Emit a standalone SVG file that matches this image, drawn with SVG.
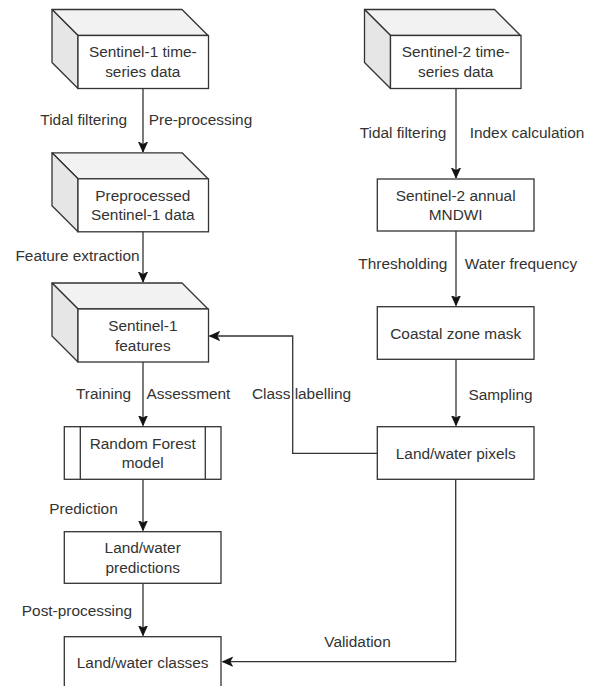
<svg xmlns="http://www.w3.org/2000/svg" xmlns:xlink="http://www.w3.org/1999/xlink" width="592" height="686" viewBox="0 0 592 686">
<style>
text{font-family:"Liberation Sans",Arial,sans-serif;font-size:15.4px;fill:#333;text-anchor:middle}
.box{fill:#fff;stroke:#333;stroke-width:1.3}
.top{fill:#f2f2f2;stroke:#333;stroke-width:1.3;stroke-linejoin:round}
.side{fill:#e6e6e6;stroke:#333;stroke-width:1.3;stroke-linejoin:round}
.edge{fill:none;stroke:#333;stroke-width:1.3}
</style>
<defs>
<marker id="arr" markerUnits="userSpaceOnUse" markerWidth="12" markerHeight="12" refX="10" refY="5" orient="auto">
<path d="M0,0.5 L10,5 L0,9.5 L2.5,5 Z" fill="#111" stroke="#111" stroke-width="0.8"/>
</marker>
<g id="cube">
<polygon class="top" points="0,0 130,0 156,26 26,26"/>
<polygon class="side" points="0,0 26,26 26,79 0,53"/>
<rect class="box" x="26" y="26" width="130.5" height="53"/>
</g>
</defs>
<rect width="592" height="686" fill="#fff"/>
<g id="connectors" class="edge">
<path d="M143,88 V152" marker-end="url(#arr)"/>
<path d="M143,231 V282" marker-end="url(#arr)"/>
<path d="M143,362 V425.5" marker-end="url(#arr)"/>
<path d="M143,479.3 V530.5" marker-end="url(#arr)"/>
<path d="M143,583.3 V635.5" marker-end="url(#arr)"/>
<path d="M456,88 V178" marker-end="url(#arr)"/>
<path d="M456,231 V305.5" marker-end="url(#arr)"/>
<path d="M456,359.3 V425.5" marker-end="url(#arr)"/>
<path d="M377.3,453.3 H292.7 V336 H209.5" marker-end="url(#arr)"/>
<path d="M455.7,479.3 V661.7 H222.5" marker-end="url(#arr)"/>
</g>
<g id="labels">
<text x="83.7" y="124.5">Tidal filtering</text>
<text x="200.5" y="124.5">Pre-processing</text>
<text x="77.5" y="260.5">Feature extraction</text>
<text x="103.5" y="398.5">Training</text>
<text x="188.5" y="398.5">Assessment</text>
<text x="301.5" y="398.5">Class labelling</text>
<text x="83.5" y="513.5">Prediction</text>
<text x="77" y="616.2">Post-processing</text>
<text x="403" y="138.2">Tidal filtering</text>
<text x="527" y="138.2">Index calculation</text>
<text x="402.8" y="268.8">Thresholding</text>
<text x="521" y="268.8">Water frequency</text>
<text x="500.5" y="399.5">Sampling</text>
<text x="357.5" y="647.2">Validation</text>
</g>
<g id="s1data">
<use xlink:href="#cube" transform="translate(52,9.5)"/>
<text x="142.8" y="57.3">Sentinel-1 time-</text>
<text x="142.8" y="76.8">series data</text>
</g>
<g id="s1pre">
<use xlink:href="#cube" transform="translate(52,152.8)"/>
<text x="142.8" y="200.5">Preprocessed</text>
<text x="142.8" y="220">Sentinel-1 data</text>
</g>
<g id="s1feat">
<use xlink:href="#cube" transform="translate(52,283)"/>
<text x="142.8" y="331.3">Sentinel-1</text>
<text x="142.8" y="350.8">features</text>
</g>
<g id="rf">
<rect class="box" x="64.3" y="426.7" width="156.7" height="52.6"/>
<path class="edge" d="M80.3,426.7 V479.3 M205.3,426.7 V479.3"/>
<text x="142.7" y="448.8">Random Forest</text>
<text x="142.7" y="468.3">model</text>
</g>
<g id="lwpred">
<rect class="box" x="64.3" y="531.7" width="156.7" height="51.6"/>
<text x="142.7" y="553.3">Land/water</text>
<text x="142.7" y="572.8">predictions</text>
</g>
<g id="lwclasses">
<rect class="box" x="64.3" y="636.7" width="156.7" height="52"/>
<text x="142.7" y="667.5">Land/water classes</text>
</g>
<g id="s2data">
<use xlink:href="#cube" transform="translate(364.5,9.5)"/>
<text x="455.7" y="57.3">Sentinel-2 time-</text>
<text x="455.7" y="76.8">series data</text>
</g>
<g id="mndwi">
<rect class="box" x="377.3" y="179" width="156.7" height="52"/>
<text x="455.7" y="200.7">Sentinel-2 annual</text>
<text x="455.7" y="220.2">MNDWI</text>
</g>
<g id="czm">
<rect class="box" x="377.3" y="306.7" width="156.7" height="52.6"/>
<text x="455.7" y="338.5">Coastal zone mask</text>
</g>
<g id="lwpix">
<rect class="box" x="377.3" y="426.7" width="156.7" height="52.6"/>
<text x="455.7" y="458.5">Land/water pixels</text>
</g>
</svg>
